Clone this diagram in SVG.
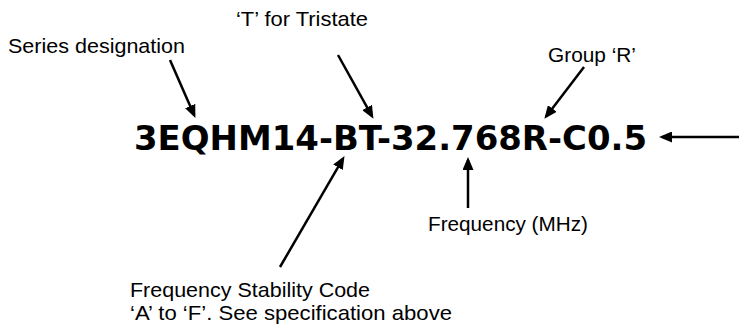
<svg xmlns="http://www.w3.org/2000/svg" width="739" height="325" viewBox="0 0 739 325">
<style>
.lbl{font-family:"Liberation Sans",Arial,sans-serif;font-size:21px;fill:#000}
.main{font-family:"DejaVu Sans","Liberation Sans",Arial,sans-serif;font-size:34px;font-weight:bold;fill:#000}
.arr{stroke:#000;stroke-width:2.5;fill:none;marker-end:url(#ah)}
</style>
<defs>
<marker id="ah" markerUnits="userSpaceOnUse" markerWidth="13" markerHeight="11" refX="10" refY="5.5" orient="auto">
<path d="M0,0 L13,5.5 L0,11 z" fill="#000"/>
</marker>
</defs>
<rect width="739" height="325" fill="#fff"/>
<g id="part-number"><text class="main" x="134" y="150" textLength="513" lengthAdjust="spacingAndGlyphs">3EQHM14-BT-32.768R-C0.5</text></g>
<g id="series"><text class="lbl" x="8" y="53" textLength="177" lengthAdjust="spacingAndGlyphs">Series designation</text></g>
<g id="tristate"><text class="lbl" x="236" y="26" textLength="132" lengthAdjust="spacingAndGlyphs">‘T’ for Tristate</text></g>
<g id="group"><text class="lbl" x="548" y="62" textLength="88" lengthAdjust="spacingAndGlyphs">Group ‘R’</text></g>
<g id="frequency"><text class="lbl" x="428" y="231" textLength="160" lengthAdjust="spacingAndGlyphs">Frequency (MHz)</text></g>
<g id="stability">
<text class="lbl" x="130" y="297" textLength="240" lengthAdjust="spacingAndGlyphs">Frequency Stability Code</text>
<text class="lbl" x="130" y="320" textLength="322" lengthAdjust="spacingAndGlyphs">‘A’ to ‘F’. See specification above</text>
</g>
<g id="connectors">
<line class="arr" x1="170" y1="60" x2="194.2" y2="115.2"/>
<line class="arr" x1="338" y1="55" x2="372" y2="116.2"/>
<line class="arr" x1="584" y1="67" x2="546.2" y2="116.4"/>
<line class="arr" x1="280" y1="267" x2="343" y2="158.7"/>
<line class="arr" x1="468" y1="208" x2="468" y2="160"/>
<line class="arr" x1="739" y1="137" x2="662" y2="137"/>
</g>
</svg>
